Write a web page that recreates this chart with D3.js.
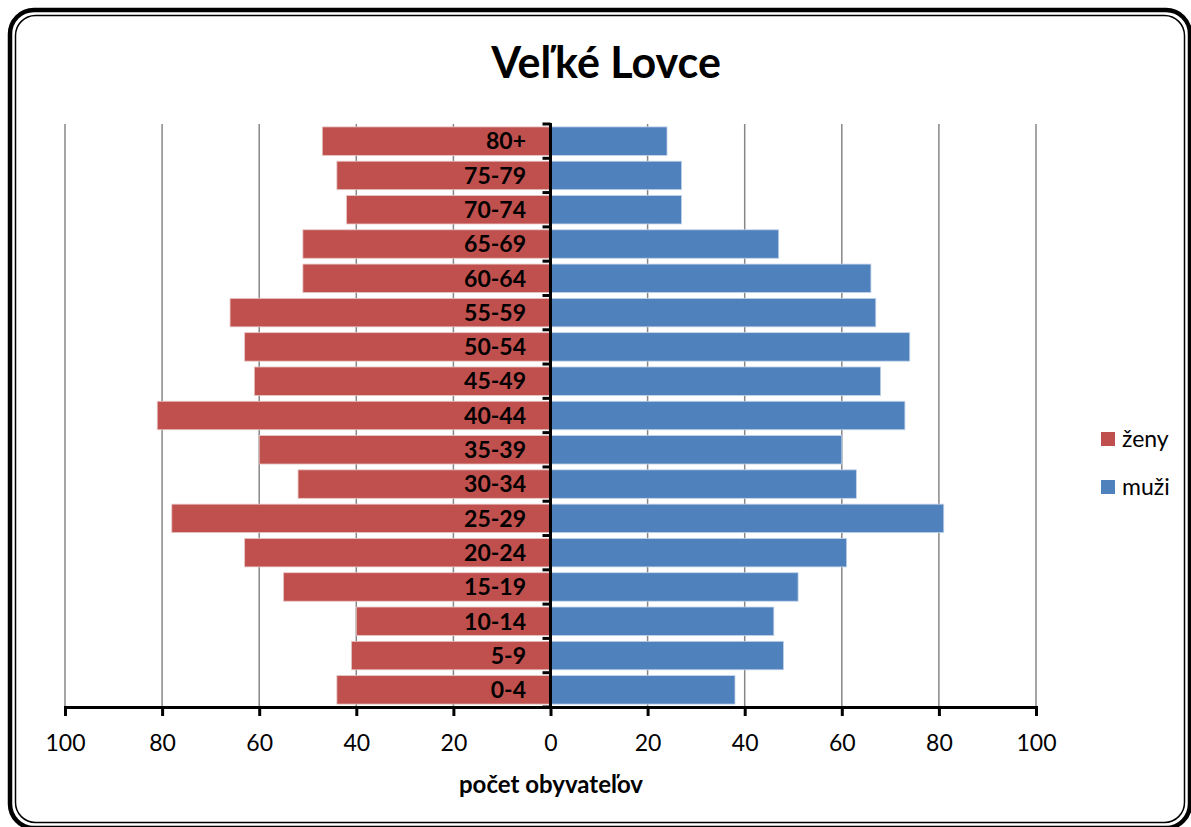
<!doctype html>
<html>
<head>
    <meta charset="utf-8">
    <title>Veľké Lovce</title>
    <style>
        body { margin: 0; background: #fff; }
        text { font-family: Lato, "Open Sans", sans-serif; }
    </style>
    <script src="https://d3js.org/d3.v7.min.js"></script>
</head>
<body>
<svg width="1191" height="827"></svg>
<script>
    // age groups, top to bottom
    var ageGroups = ["80+", "75-79", "70-74", "65-69", "60-64", "55-59", "50-54", "45-49",
        "40-44", "35-39", "30-34", "25-29", "20-24", "15-19", "10-14", "5-9", "0-4"];
    var zeny = [47, 44, 42, 51, 51, 66, 63, 61, 81, 60, 52, 78, 63, 55, 40, 41, 44];
    var muzi = [24, 27, 27, 47, 66, 67, 74, 68, 73, 60, 63, 81, 61, 51, 46, 48, 38];
    var tickValues = [-100, -80, -60, -40, -20, 0, 20, 40, 60, 80, 100];
    var seriesNames = ["ženy", "muži"];
    var colors = ["#C0504D", "#4F81BD"];

    var svg = d3.select("svg");

    // frame with double border
    svg.append("rect")
        .attr("x", 10).attr("y", 10).attr("width", 1180).attr("height", 818)
        .attr("rx", 24).attr("fill", "#fff")
        .attr("stroke", "#000").attr("stroke-width", 4.5);
    svg.append("rect")
        .attr("x", 15.5).attr("y", 15.5).attr("width", 1169).attr("height", 807)
        .attr("rx", 20).attr("fill", "none")
        .attr("stroke", "#000").attr("stroke-width", 1.5);

    svg.append("text")
        .attr("x", 606).attr("y", 78)
        .attr("text-anchor", "middle")
        .attr("font-size", "43px").attr("font-weight", "bold")
        .text("Veľké Lovce");

    var x = d3.scaleLinear().domain([-100, 100]).range([65, 1036]);
    var y = d3.scaleBand().domain(ageGroups).range([124, 707]).paddingInner(0.17).paddingOuter(0.085);

    // gridlines
    svg.append("g").selectAll("line")
        .data(tickValues.filter(function (d) { return d !== 0; }))
        .enter().append("line")
        .attr("x1", function (d) { return x(d); })
        .attr("x2", function (d) { return x(d); })
        .attr("y1", 124).attr("y2", 707)
        .attr("stroke", "#878787").attr("stroke-width", 1.5);

    // bars
    svg.append("g").selectAll("rect")
        .data(zeny)
        .enter().append("rect")
        .attr("x", function (d) { return x(-d); })
        .attr("y", function (d, i) { return y(ageGroups[i]); })
        .attr("width", function (d) { return x(0) - x(-d); })
        .attr("height", y.bandwidth())
        .attr("fill", colors[0])
        .attr("stroke", "#e6c6c5").attr("stroke-width", 0.8);

    svg.append("g").selectAll("rect")
        .data(muzi)
        .enter().append("rect")
        .attr("x", x(0))
        .attr("y", function (d, i) { return y(ageGroups[i]); })
        .attr("width", function (d) { return x(d) - x(0); })
        .attr("height", y.bandwidth())
        .attr("fill", colors[1])
        .attr("stroke", "#c2d3ea").attr("stroke-width", 0.8);

    // category labels
    svg.append("g").selectAll("text")
        .data(ageGroups)
        .enter().append("text")
        .attr("x", 526)
        .attr("y", function (d) { return y(d) + y.bandwidth() / 2; })
        .attr("dy", "0.36em")
        .attr("text-anchor", "end")
        .attr("font-size", "23px").attr("font-weight", "bold")
        .text(function (d) { return d; });

    // vertical axis at zero with ticks between categories
    var bounds = d3.range(ageGroups.length + 1).map(function (i) { return 124 + i * (583 / ageGroups.length); });
    svg.append("line")
        .attr("x1", x(0)).attr("x2", x(0))
        .attr("y1", 123).attr("y2", 707)
        .attr("stroke", "#000").attr("stroke-width", 3);
    svg.append("g").selectAll("line")
        .data(bounds)
        .enter().append("line")
        .attr("x1", x(0) - 8).attr("x2", x(0))
        .attr("y1", function (d) { return d; })
        .attr("y2", function (d) { return d; })
        .attr("stroke", "#000").attr("stroke-width", 3);

    // bottom axis
    var xAxis = svg.append("g")
        .attr("transform", "translate(0,707)")
        .call(d3.axisBottom(x).tickValues(tickValues).tickSize(9).tickPadding(19)
            .tickFormat(function (d) { return Math.abs(d); }));
    xAxis.select(".domain").attr("stroke", "#000").attr("stroke-width", 3);
    xAxis.selectAll(".tick line").attr("stroke", "#000").attr("stroke-width", 3);
    xAxis.selectAll(".tick text")
        .attr("font-family", "Lato, sans-serif")
        .attr("font-size", "23px").attr("fill", "#000");

    svg.append("text")
        .attr("x", 551).attr("y", 793)
        .attr("text-anchor", "middle")
        .attr("font-size", "24px").attr("font-weight", "bold")
        .text("počet obyvateľov");

    // legend
    var legend = svg.append("g").selectAll("g")
        .data(seriesNames)
        .enter().append("g")
        .attr("transform", function (d, i) { return "translate(1101," + (432 + i * 48) + ")"; });
    legend.append("rect")
        .attr("width", 14).attr("height", 14)
        .attr("fill", function (d, i) { return colors[i]; });
    legend.append("text")
        .attr("x", 21).attr("y", 7).attr("dy", "0.36em")
        .attr("font-size", "23px")
        .text(function (d) { return d; });
</script>
</body>
</html>
